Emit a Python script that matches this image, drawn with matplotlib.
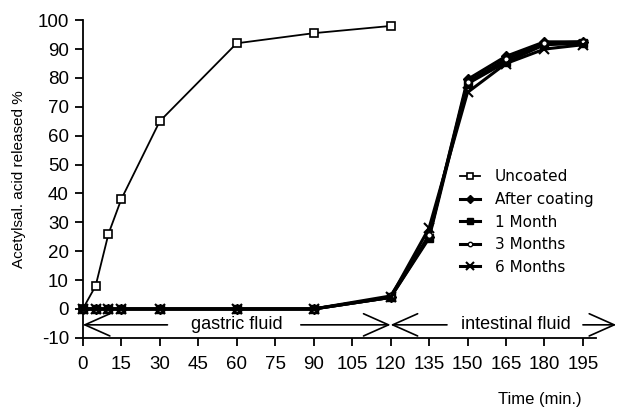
import matplotlib
matplotlib.use("Agg")
import matplotlib.pyplot as plt

plt.rcParams['font.family'] = ['Liberation Sans', 'DejaVu Sans']
plt.rcParams['axes.unicode_minus'] = False

# release data (min vs % released)
time_uncoated = [0, 5, 10, 15, 30, 60, 90, 120]
uncoated = [0, 8, 26, 38, 65, 92, 95.5, 98]

time_coated = [0, 5, 10, 15, 30, 60, 90, 120, 135, 150, 165, 180, 195]
after_coating = [0, 0, 0, 0, 0, 0, 0, 4, 25, 79.5, 87.5, 92.5, 92.5]
month_1 = [0, 0, 0, 0, 0, 0, 0, 4, 24.5, 78, 85.5, 91.5, 92]
months_3 = [0, 0, 0, 0, 0, 0, 0, 4.5, 25.5, 78.5, 86.5, 92, 92.5]
months_6 = [0, 0, 0, 0, 0, 0, 0, 4, 28, 75, 85, 90, 91.5]

xticks = list(range(0, 196, 15))
yticks = list(range(-10, 101, 10))

fig = plt.figure(figsize=(6.18, 4.12), dpi=100)
ax = fig.add_axes([0.134, 0.18, 0.83, 0.771])

ax.plot(time_uncoated, uncoated, color='black', lw=1.3, marker='s', ms=6,
        mfc='white', mec='black', mew=1.2, label='Uncoated', clip_on=False)
ax.plot(time_coated, after_coating, color='black', lw=2.2, marker='D', ms=5,
        mfc='black', label='After coating', clip_on=False)
ax.plot(time_coated, month_1, color='black', lw=2.2, marker='s', ms=6,
        mfc='black', label='1 Month', clip_on=False)
ax.plot(time_coated, months_3, color='black', lw=2.2, marker='o', ms=4,
        mfc='white', mec='black', label='3 Months', clip_on=False)
ax.plot(time_coated, months_6, color='black', lw=2.2, marker='x', ms=7, mew=1.5,
        label='6 Months', clip_on=False)

ax.set_xlim(0, 200)
ax.set_ylim(-10, 100)
ax.set_xticks(xticks)
ax.set_yticks(yticks)
ax.tick_params(labelsize=13.5, direction='out', length=6, width=1.3, pad=7)
ax.tick_params(axis='y', pad=4)
for s in ['top', 'right']:
    ax.spines[s].set_visible(False)
ax.spines['left'].set_linewidth(1.3)
ax.spines['bottom'].set_linewidth(1.3)

ax.set_ylabel('Acetylsal. acid released %', fontsize=11)
ax.yaxis.set_label_coords(-0.11, 0.5)
ax.set_xlabel('Time (min.)', fontsize=12)
ax.xaxis.set_label_coords(0.89, -0.17)

# fluid phase arrows
ya = -5.5
arr = dict(arrowstyle='->,head_length=1.8,head_width=0.8', lw=1.2,
           color='black', mutation_scale=10, shrinkA=0, shrinkB=0)
ax.annotate('', xy=(0, ya), xytext=(33, ya), arrowprops=arr, annotation_clip=False)
ax.annotate('', xy=(120, ya), xytext=(85, ya), arrowprops=arr, annotation_clip=False)
ax.text(60, ya, 'gastric fluid', ha='center', va='center', fontsize=13)
ax.annotate('', xy=(120, ya), xytext=(142, ya), arrowprops=arr, annotation_clip=False)
ax.annotate('', xy=(208, ya), xytext=(195, ya), arrowprops=arr, annotation_clip=False)
ax.text(169, ya, 'intestinal fluid', ha='center', va='center', fontsize=13)

ax.legend(loc='upper left', bbox_to_anchor=(0.708, 0.574), frameon=False,
          prop={'family': 'DejaVu Sans', 'size': 11}, handlelength=1.3,
          labelspacing=0.5, handletextpad=1.0, markerscale=0.8)

fig.savefig('out.png', dpi=100)
